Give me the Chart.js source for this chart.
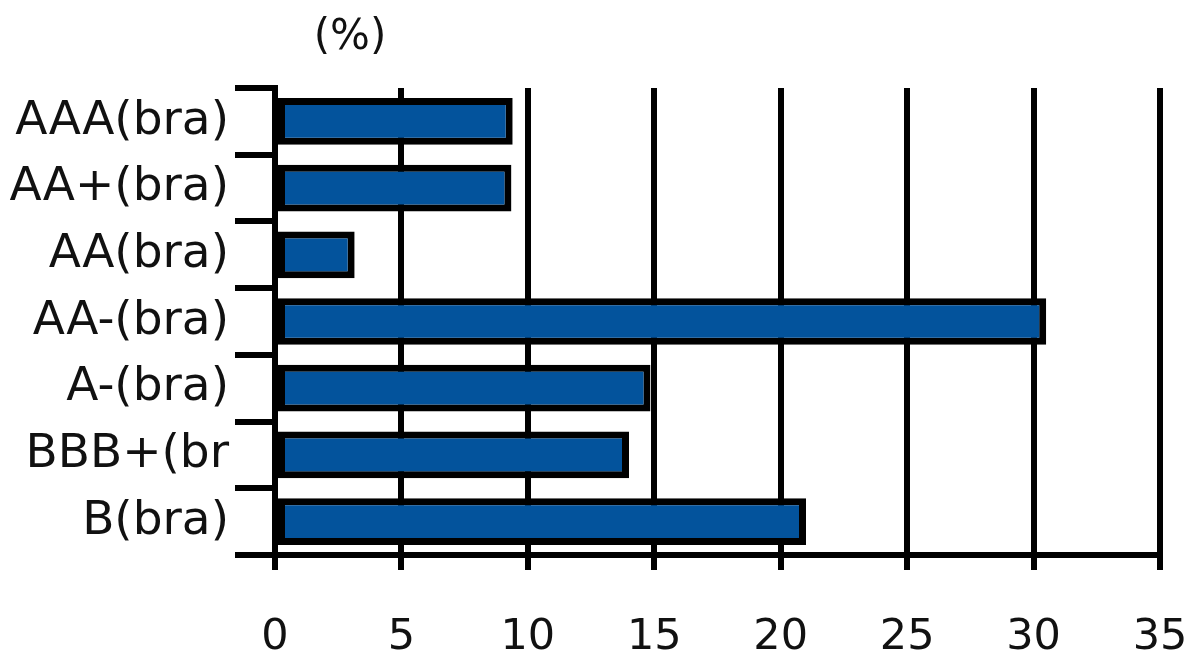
<!DOCTYPE html>
<html>
<head>
<meta charset="utf-8">
<script src="https://cdn.jsdelivr.net/npm/chart.js@4/dist/chart.umd.min.js"></script>
<style>
  html, body { margin: 0; padding: 0; background: #fff; }
  #wrap { width: 1190px; height: 655px; position: relative; }
</style>
</head>
<body>
<div id="wrap"><canvas id="grafico"></canvas></div>
<script>
// datos
const categorias = ["AAA(bra)", "AA+(bra)", "AA(bra)", "AA-(bra)", "A-(bra)", "BBB+(br", "B(bra)"];
const valores = [9.4, 9.35, 3.15, 30.5, 14.85, 14.0, 21.0];
const unidad = "(%)";
const ejeMin = 0, ejeMax = 35, paso = 5;

const fuente = "'DejaVu Sans', Verdana, sans-serif";

// texto de unidad arriba a la izquierda
const tituloUnidad = {
    id: 'tituloUnidad',
    afterDraw(chart) {
        const ctx = chart.ctx;
        ctx.save();
        ctx.font = "42px " + fuente;
        ctx.fillStyle = "#111";
        ctx.textAlign = "center";
        ctx.textBaseline = "middle";
        ctx.fillText(unidad, 350, 38);
        ctx.restore();
    }
};

new Chart(document.getElementById("grafico"), {
    type: 'bar',
    data: {
        labels: categorias,
        datasets: [{
            data: valores,
            backgroundColor: '#03539C',
            borderColor: '#000',
            borderWidth: 7,
            borderSkipped: false,
            barPercentage: 0.7,
            categoryPercentage: 1
        }]
    },
    options: {
        indexAxis: 'y',
        responsive: true,
        maintainAspectRatio: false,
        animation: false,
        layout: { padding: { top: 88, right: 0, left: 0, bottom: 0 } },
        plugins: { legend: { display: false }, tooltip: { enabled: false } },
        scales: {
            x: {
                min: ejeMin, max: ejeMax,
                ticks: { stepSize: paso, padding: 42, color: '#111', font: { family: fuente, size: 43 } },
                grid: { color: '#000', lineWidth: 6, tickLength: 15 },
                border: { color: '#000', width: 6 },
                afterFit: (s) => { s.height = 100; s.paddingRight = 30; s.paddingLeft = 0; }
            },
            y: {
                ticks: { padding: 6, color: '#111', font: { family: fuente, size: 47 }, autoSkip: false },
                grid: { color: '#000', lineWidth: 6, tickLength: 40, drawOnChartArea: false },
                border: { color: '#000', width: 6 },
                afterFit: (s) => { s.width = 275; }
            }
        }
    },
    plugins: [tituloUnidad]
});
</script>
</body>
</html>
